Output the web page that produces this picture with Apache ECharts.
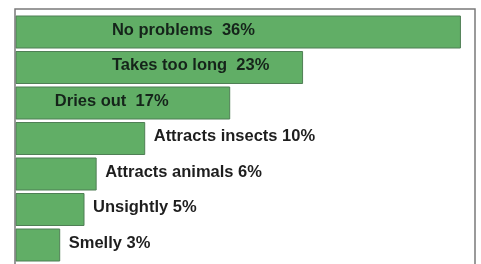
<!DOCTYPE html>
<html><head><meta charset="utf-8">
<script src="https://cdn.jsdelivr.net/npm/echarts@6/dist/echarts.min.js"></script>
<style>html,body{margin:0;padding:0;background:#fff}#c{width:481px;height:264px}</style>
</head><body><div id="c"></div>
<script>
var categories = ['No problems', 'Takes too long', 'Dries out', 'Attracts insects', 'Attracts animals', 'Unsightly', 'Smelly'];
var values = [36, 23, 17, 10, 6, 5, 3];
var labels = ['No problems  36%', 'Takes too long  23%', 'Dries out  17%', 'Attracts insects 10%', 'Attracts animals 6%', 'Unsightly 5%', 'Smelly 3%'];

// label layout (style): inside labels start at a given axis value, outside labels after bar end
var insideStart = [7.3, 7.3, 2.6];
var outsideGap = 9;

var chart = echarts.init(document.getElementById('c'), null, {renderer: 'canvas'});
chart.setOption({
  animation: false,
  graphic: [{
    type: 'rect', shape: {x: 15, y: 9, width: 460, height: 270},
    style: {fill: 'none', stroke: '#7a7a7a', lineWidth: 1.5}, z: 10
  }],
  grid: {left: 16, right: 6, top: 14.25, height: 248.5},
  xAxis: {type: 'value', min: -0.6, max: 37.2, show: false},
  yAxis: {type: 'category', data: categories, inverse: true, show: false},
  series: [{
    type: 'custom',
    data: values.map(function (v, i) { return [v, i]; }),
    encode: {x: 0, y: 1},
    renderItem: function (params, api) {
      var v = api.value(0), i = api.value(1);
      var end = api.coord([v, i]);
      var band = api.size([0, 1])[1];
      var h = band - 3.5;
      var x0 = params.coordSys.x;
      var txtX;
      if (i < insideStart.length) {
        txtX = api.coord([insideStart[i], i])[0];
      } else {
        txtX = end[0] + outsideGap;
      }
      return {
        type: 'group',
        children: [{
          type: 'rect',
          shape: {x: x0, y: end[1] - h / 2, width: end[0] - x0, height: h},
          style: {fill: '#61ae66', stroke: '#4f7f55', lineWidth: 1}
        }, {
          type: 'text',
          style: {
            x: txtX, y: end[1] - 2, text: labels[i],
            fill: i < insideStart.length ? '#15241a' : '#1e1e1e',
            font: 'bold 16.5px "Liberation Sans", Arial, sans-serif',
            textAlign: 'left', textVerticalAlign: 'middle'
          }
        }]
      };
    }
  }]
});
</script></body></html>
